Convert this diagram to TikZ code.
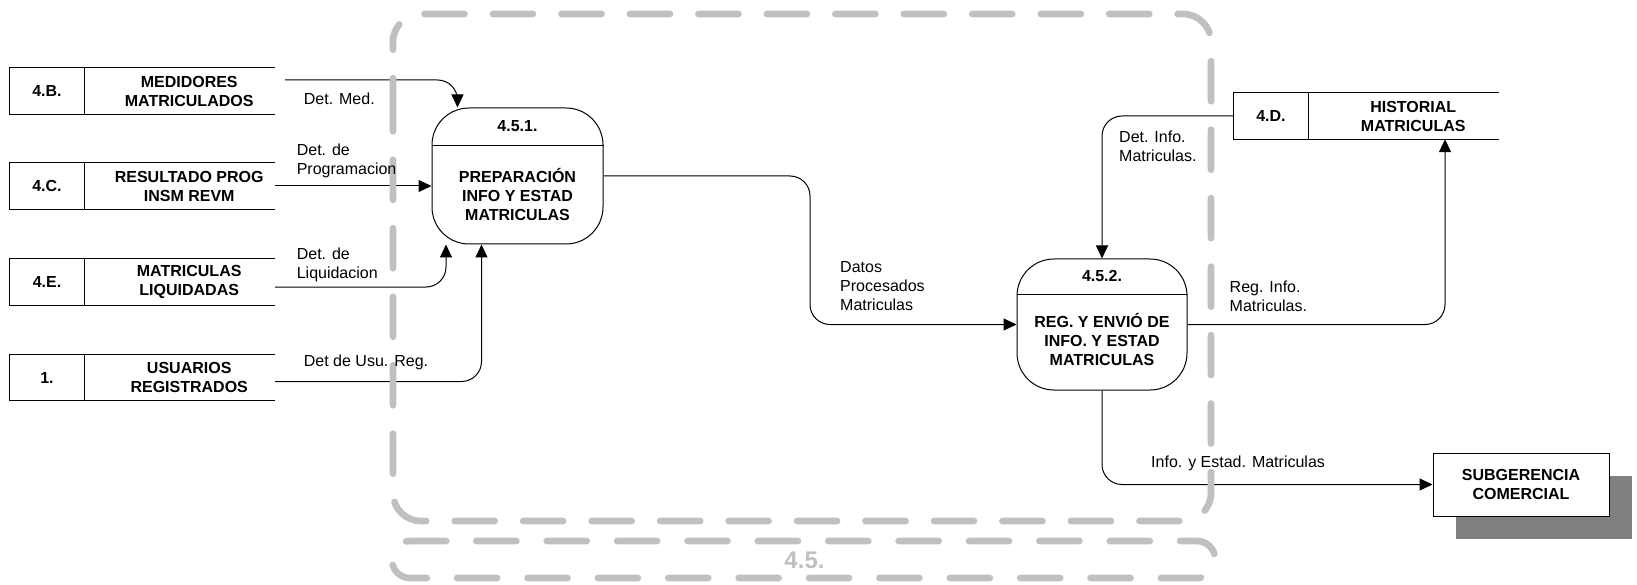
\documentclass[tikz,border=0pt]{standalone}
\usepackage{fontspec}
\setmainfont{Liberation Sans}
\usetikzlibrary{arrows.meta,positioning,calc,shadows}
\definecolor{bndgray}{RGB}{192,192,192}
\definecolor{shdgray}{RGB}{128,128,128}
\tikzset{
  flow/.style={draw=black,line width=1pt},
  arr/.style={flow,-{Triangle[length=13pt,width=12pt]},rounded corners=20pt},
  storeid/.style={minimum width=74pt,minimum height=46pt,inner sep=0pt,font=\fontsize{16}{19}\selectfont\bfseries},
  storetxt/.style={inner sep=0pt,align=center,font=\fontsize{16}{19}\selectfont\bfseries},
  proc/.style={flow,rounded corners=37pt,minimum width=171pt,minimum height=136pt,inner sep=0pt},
  ptxt/.style={inner sep=0pt,align=center,font=\fontsize{16}{19}\selectfont\bfseries},
  ext/.style={flow,fill=white,minimum width=176pt,minimum height=63pt,align=center,
    font=\fontsize{16}{19}\selectfont\bfseries,
    drop shadow={shadow xshift=23pt,shadow yshift=-23pt,opacity=1,fill=shdgray}},
  lbl/.style={inner sep=0pt,anchor=west,align=left,font=\fontsize{16}{19}\selectfont},
  bound/.style={draw=bndgray,line width=6.7pt,line cap=round,rounded corners=28pt}
}
% data store: name, position, id, label
\newcommand{\dstore}[4]{%
  \node[storeid] (#1) at (#2) {#3};
  \coordinate (#1e) at ([xshift=191pt]#1.east);
  \node[storetxt] (#1t) at ([xshift=105pt]#1.east) {#4};
  \draw[flow] (#1e |- #1.north) -- (#1.north west) -- (#1.south west) -- (#1e |- #1.south);
  \draw[flow] (#1.north east) -- (#1.south east);
}

\begin{document}
\begin{tikzpicture}[x=1pt,y=-1pt]
  \useasboundingbox (0,0) rectangle (1637,585);

  % stores
  \dstore{sB}{47,91}{4.B.}{MEDIDORES\\MATRICULADOS}
  \dstore{sC}{47,186}{4.C.}{RESULTADO PROG\\INSM REVM}
  \dstore{sE}{47,282}{4.E.}{MATRICULAS\\LIQUIDADAS}
  \dstore{sU}{47,377.5}{1.}{USUARIOS\\REGISTRADOS}
  \dstore{sD}{1271,116}{4.D.}{HISTORIAL\\MATRICULAS}

  % processes
  \node[proc] (P1) at (517.5,176) {};
  \node[ptxt] (P1n) at ([yshift=-19pt]P1.north) {4.5.1.};
  \draw[flow] ([yshift=-38pt]P1.north west) -- ([yshift=-38pt]P1.north east);
  \node[ptxt] (P1b) at ([yshift=-18.5pt]P1.center) {PREPARACIÓN\\INFO Y ESTAD\\MATRICULAS};

  \node[proc, minimum width=170pt, minimum height=131pt] (P2) at (1102,324.5) {};
  \node[ptxt] (P2n) at ([yshift=-17pt]P2.north) {4.5.2.};
  \draw[flow] ([yshift=-36pt]P2.north west) -- ([yshift=-36pt]P2.north east);
  \node[ptxt] (P2b) at ([yshift=-15pt]P2.center) {REG. Y ENVIÓ DE\\INFO. Y ESTAD\\MATRICULAS};

  \node[ext] (S) at (1521,484.5) {SUBGERENCIA\\COMERCIAL};

  % flows
  \coordinate (p12) at ($(P1.east)!0.5!(P2.west)$);
  \draw[arr] ([xshift=10pt,yshift=11pt]sBe) -| ([xshift=-60pt]P1.north);
  \draw[arr] (sCe) -- (sCe -| P1.west);
  \draw[arr] ([yshift=-5pt]sEe) -| ([xshift=-71.5pt]P1.south);
  \draw[arr] ([yshift=-4pt]sUe) -| ([xshift=-36pt]P1.south);
  \draw[arr] (P1.east) -| (p12) |- (P2.west);
  \draw[arr] (sD.west) -| (P2.north);
  \draw[arr] (P2.east) -| ([xshift=174pt]sD.south);
  \draw[arr] (P2.south) |- (S.west);

  % process 4.5 boundary
  \draw[bound, dash pattern=on 40pt off 28.47pt]
    (393,63.35) -- (393,521) -- (1211,521) -- (1211,14) -- (393,14) -- cycle;
  \draw[bound, rounded corners=18pt, dash pattern=on 40pt off 30.38pt]
    (458.35,541) -- (1215,541) -- (1215,578) -- (392,578) -- (392,541) -- cycle;
  \node[text=bndgray, font=\fontsize{24}{28}\selectfont\bfseries] (P45n) at (804.5,560) {4.5.};

  \node[lbl] (lMed) at (303.7,98.3) {Det. Med.};
  \node[lbl] (lProg) at (296.6,161) {Det. de\\Programacion};
  \node[lbl] (lLiq) at (296.6,264.5) {Det. de\\Liquidacion};
  \node[lbl] (lUsu) at (303.7,362.7) {Det de Usu. Reg.};
  \node[lbl] (lDat) at (840,286) {Datos\\Procesados\\Matriculas};
  \node[lbl] (lDet) at (1119,146.7) {Det. Info.\\Matriculas.};
  \node[lbl] (lReg) at (1229.5,296.7) {Reg. Info.\\Matriculas.};
  \node[lbl] (lInfo) at (1151,463.3) {Info. y Estad. Matriculas};
\end{tikzpicture}
\end{document}
